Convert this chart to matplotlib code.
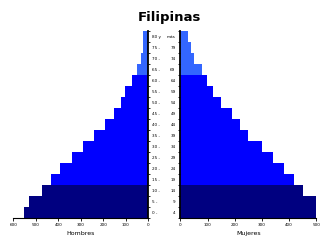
import numpy as np
import matplotlib.pyplot as plt

# --- Datos (miles de personas) ---
edad_ini = ['0 -', '5 -', '10 -', '15 -', '20 -', '25 -', '30 -', '35 -', '40 -',
            '45 -', '50 -', '55 -', '60 -', '65 -', '70 -', '75 -', '80 y']
edad_fin = ['4', '9', '14', '19', '24', '29', '34', '39', '44',
            '49', '54', '59', '64', '69', '74', '79', 'más']
hombres = [552, 529, 472, 432, 392, 340, 290, 240, 191, 151, 121, 102, 71, 50, 31, 22, 22]
mujeres = [502, 499, 451, 418, 381, 341, 300, 249, 220, 190, 150, 120, 98, 80, 49, 40, 28]

col_ninos = '#000080'
col_adultos = '#0000ff'
col_mayores = '#3366ff'

y = np.arange(len(hombres))
colores = [col_ninos if i < 3 else (col_adultos if i < 13 else col_mayores) for i in y]

W, H = 330, 252
fig = plt.figure(figsize=(W / 100, H / 100), dpi=100)

bottom = (H - 218.3) / H
height = 187 / H
ax_h = fig.add_axes([13.3 / W, bottom, 135 / W, height])
ax_m = fig.add_axes([180.3 / W, bottom, 136 / W, height])

ax_h.barh(y, hombres, height=1.0, color=colores, linewidth=0)
ax_m.barh(y, mujeres, height=1.0, color=colores, linewidth=0)

ax_h.set_xlim(600, 0)
ax_m.set_xlim(0, 500)
for ax in (ax_h, ax_m):
    ax.set_ylim(-0.5, len(hombres) - 0.5)
    ax.spines['top'].set_visible(False)
    ax.spines['bottom'].set_linewidth(0.8)
    ax.tick_params(axis='x', labelsize=3, length=1.8, width=0.6, pad=1.5)
    ax.set_yticks(np.arange(len(hombres) + 1) - 0.5)
    ax.set_yticklabels([])
    ax.tick_params(axis='y', length=1.2, width=0.6)

ax_h.spines['left'].set_visible(False)
ax_h.spines['right'].set_linewidth(1.3)
ax_h.yaxis.tick_right()
ax_h.set_xticks([600, 500, 400, 300, 200, 100, 0])

ax_m.spines['right'].set_visible(False)
ax_m.spines['left'].set_linewidth(1.3)
ax_m.set_xticks([0, 100, 200, 300, 400, 500])

ax_h.set_xlabel('Hombres', fontsize=4.5, labelpad=3)
ax_m.set_xlabel('Mujeres', fontsize=4.5, labelpad=3)

# etiquetas de edad en la franja central
for i in y:
    yy = bottom + height * (i + 0.5) / len(hombres)
    fig.text(152 / W, yy, edad_ini[i], fontsize=3, ha='left', va='center')
    fig.text(175.5 / W, yy, edad_fin[i], fontsize=3, ha='right', va='center')

fig.text(169 / W, 1 - 18 / H, 'Filipinas', fontsize=9.5, fontweight='bold',
         ha='center', va='center')

fig.savefig('out.png', dpi=100)
